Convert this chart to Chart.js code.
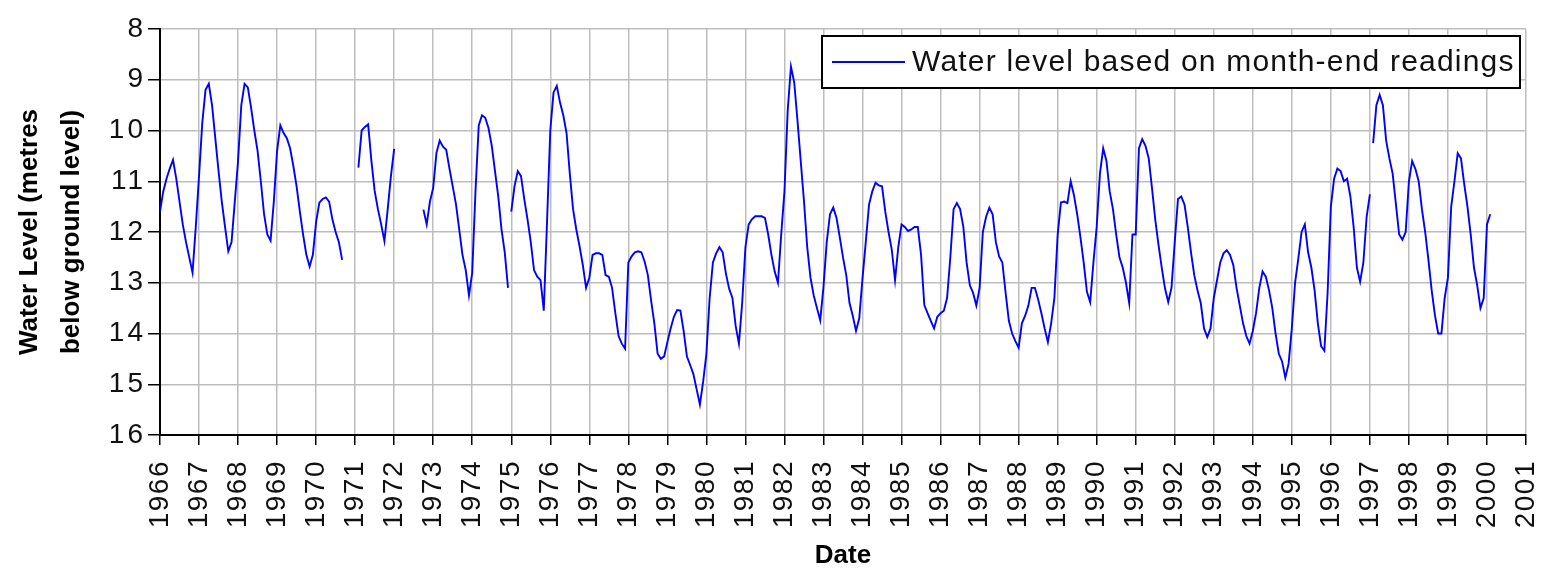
<!DOCTYPE html>
<html>
<head>
<meta charset="utf-8">
<script src="https://cdn.jsdelivr.net/npm/chart.js@4.4.1/dist/chart.umd.min.js"></script>
<style>
  html, body { margin: 0; padding: 0; background: #fff; }
  #wrap { width: 1546px; height: 569px; }
</style>
</head>
<body>
<div id="wrap"><canvas id="levelChart" width="1546" height="569"></canvas></div>
<script>
// month-end water levels (metres below ground), Jan..Dec of each year, null = no reading
const wl1966 = [11.6, 11.2, 10.95, 10.75, 10.58, 10.95, 11.4, 11.85, 12.2, 12.5, 12.8, 11.9];
const wl1967 = [10.9, 9.85, 9.2, 9.08, 9.5, 10.15, 10.8, 11.4, 11.9, 12.38, 12.2, 11.4];
const wl1968 = [10.6, 9.5, 9.08, 9.15, 9.55, 10.0, 10.4, 11.0, 11.65, 12.05, 12.17, 11.4];
const wl1969 = [10.4, 9.9, 10.05, 10.15, 10.35, 10.7, 11.1, 11.6, 12.05, 12.45, 12.68, 12.45];
const wl1970 = [11.8, 11.42, 11.35, 11.32, 11.4, 11.75, 12.0, 12.2, 12.55, null, null, null];
const wl1971 = [null, 10.73, 10.0, 9.93, 9.88, 10.6, 11.19, 11.55, 11.85, 12.18, 11.56, 10.9];
const wl1972 = [10.36, null, null, null, null, null, null, null, null, 11.56, 11.85, 11.4];
const wl1973 = [11.13, 10.44, 10.2, 10.32, 10.38, 10.75, 11.1, 11.45, 11.95, 12.45, 12.75, 13.25];
const wl1974 = [12.8, 11.2, 9.9, 9.7, 9.75, 9.95, 10.3, 10.8, 11.3, 11.95, 12.4, 13.1];
const wl1975 = [11.6, 11.1, 10.8, 10.9, 11.35, 11.75, 12.2, 12.75, 12.88, 12.95, 13.55, 11.8];
const wl1976 = [10.0, 9.25, 9.12, 9.45, 9.7, 10.05, 10.85, 11.55, 11.95, 12.28, 12.65, 13.1];
const wl1977 = [12.9, 12.45, 12.42, 12.42, 12.45, 12.85, 12.88, 13.1, 13.6, 14.05, 14.2, 14.3];
const wl1978 = [12.6, 12.48, 12.4, 12.38, 12.4, 12.58, 12.85, 13.35, 13.8, 14.4, 14.5, 14.45];
const wl1979 = [14.17, 13.9, 13.67, 13.54, 13.55, 13.95, 14.45, 14.62, 14.8, 15.1, 15.4, 14.95];
const wl1980 = [14.4, 13.3, 12.6, 12.42, 12.3, 12.4, 12.82, 13.12, 13.3, 13.85, 14.2, 13.4];
const wl1981 = [12.3, 11.85, 11.75, 11.69, 11.69, 11.69, 11.72, 12.05, 12.45, 12.78, 13.0, 12.05];
const wl1982 = [11.2, 9.6, 8.74, 9.05, 9.8, 10.6, 11.39, 12.3, 12.9, 13.25, 13.5, 13.74];
const wl1983 = [13.08, 12.2, 11.65, 11.52, 11.72, 12.1, 12.5, 12.85, 13.4, 13.65, 13.95, 13.7];
const wl1984 = [12.91, 12.2, 11.46, 11.2, 11.03, 11.08, 11.1, 11.6, 12.0, 12.35, 12.95, 12.3];
const wl1985 = [11.85, 11.9, 11.98, 11.95, 11.9, 11.9, 12.45, 13.44, 13.6, 13.75, 13.9, 13.67];
const wl1986 = [13.6, 13.55, 13.3, 12.5, 11.55, 11.43, 11.55, 11.9, 12.6, 13.05, 13.2, 13.45];
const wl1987 = [13.1, 12.0, 11.7, 11.52, 11.65, 12.2, 12.48, 12.6, 13.2, 13.75, 14.0, 14.15];
const wl1988 = [14.28, 13.8, 13.65, 13.45, 13.1, 13.1, 13.33, 13.6, 13.9, 14.17, 13.8, 13.3];
const wl1989 = [12.05, 11.42, 11.4, 11.43, 11.0, 11.27, 11.65, 12.1, 12.6, 13.18, 13.38, 12.6];
const wl1990 = [11.9, 10.85, 10.35, 10.6, 11.2, 11.55, 12.05, 12.5, 12.7, 13.0, 13.4, 12.05];
const wl1991 = [12.05, 10.35, 10.17, 10.3, 10.55, 11.13, 11.75, 12.25, 12.7, 13.11, 13.38, 13.1];
const wl1992 = [12.2, 11.35, 11.3, 11.46, 11.9, 12.4, 12.85, 13.15, 13.4, 13.9, 14.07, 13.9];
const wl1993 = [13.3, 12.95, 12.6, 12.42, 12.36, 12.45, 12.65, 13.1, 13.45, 13.8, 14.05, 14.2];
const wl1994 = [13.95, 13.6, 13.1, 12.78, 12.88, 13.15, 13.5, 14.0, 14.4, 14.55, 14.87, 14.6];
const wl1995 = [13.9, 13.0, 12.52, 12.0, 11.85, 12.4, 12.7, 13.15, 13.8, 14.25, 14.34, 13.2];
const wl1996 = [11.5, 10.95, 10.75, 10.8, 11.0, 10.95, 11.3, 11.9, 12.7, 12.98, 12.6, 11.7];
const wl1997 = [11.26, 10.25, 9.5, 9.3, 9.5, 10.2, 10.55, 10.85, 11.45, 12.05, 12.15, 12.0];
const wl1998 = [11.0, 10.6, 10.76, 11.0, 11.55, 12.0, 12.55, 13.15, 13.64, 14.0, 14.0, 13.3];
const wl1999 = [12.9, 11.5, 11.0, 10.45, 10.55, 11.05, 11.5, 12.05, 12.7, 13.05, 13.5, 13.3];
const wl2000 = [11.85, 11.65, null, null, null, null, null, null, null, null, null, null];

const yearRows = [
    [1966, wl1966], [1967, wl1967], [1968, wl1968], [1969, wl1969], [1970, wl1970],
    [1971, wl1971], [1972, wl1972], [1973, wl1973], [1974, wl1974], [1975, wl1975],
    [1976, wl1976], [1977, wl1977], [1978, wl1978], [1979, wl1979], [1980, wl1980],
    [1981, wl1981], [1982, wl1982], [1983, wl1983], [1984, wl1984], [1985, wl1985],
    [1986, wl1986], [1987, wl1987], [1988, wl1988], [1989, wl1989], [1990, wl1990],
    [1991, wl1991], [1992, wl1992], [1993, wl1993], [1994, wl1994], [1995, wl1995],
    [1996, wl1996], [1997, wl1997], [1998, wl1998], [1999, wl1999], [2000, wl2000]
];

// months where the record restarts without joining the previous reading
const runStarts = ['1975-01', '1997-02'];

const yearTicks = ['1966', '1967', '1968', '1969', '1970', '1971', '1972', '1973', '1974',
    '1975', '1976', '1977', '1978', '1979', '1980', '1981', '1982', '1983', '1984', '1985',
    '1986', '1987', '1988', '1989', '1990', '1991', '1992', '1993', '1994', '1995', '1996',
    '1997', '1998', '1999', '2000', '2001'];
const depthTicks = [8, 9, 10, 11, 12, 13, 14, 15, 16];

const seriesLabel = 'Water level based on month-end readings';
const FONT = "'Liberation Sans', Arial, sans-serif";
const BLUE = '#0000ff';
const GRID = '#bdbdbd';

// monthly points on a decimal-year axis
const points = [];
yearRows.forEach(([year, vals]) => {
    vals.forEach((v, m) => {
        points.push({ x: year + m / 12, y: v, key: year + '-' + String(m + 1).padStart(2, '0') });
    });
});

// wider letter spacing on tick labels (the original uses a stretched font)
function spaceLabels(scale, spacing) {
    if (!scale || scale.$spaced) return;
    const draw = scale.drawLabels.bind(scale);
    scale.drawLabels = function (area) {
        this.ctx.save();
        this.ctx.letterSpacing = spacing;
        draw(area);
        this.ctx.restore();
    };
    scale.$spaced = true;
}

const tickSpacing = {
    id: 'tickSpacing',
    afterUpdate(chart) {
        spaceLabels(chart.scales.x, '1.5px');
        spaceLabels(chart.scales.y, '3px');
    }
};

// legend box drawn inside the plot, top right
const boxLegend = {
    id: 'boxLegend',
    afterDraw(chart) {
        const { ctx, chartArea } = chart;
        const ds = chart.data.datasets[0];
        const w = 698, h = 52;
        const x = chartArea.right - w - 6;
        const y = chartArea.top + 7;
        ctx.save();
        ctx.fillStyle = '#fff';
        ctx.fillRect(x, y, w, h);
        ctx.strokeStyle = '#000';
        ctx.lineWidth = 2;
        ctx.strokeRect(x, y, w, h);
        ctx.strokeStyle = ds.borderColor;
        ctx.lineWidth = 2;
        ctx.beginPath();
        ctx.moveTo(x + 10, y + h / 2);
        ctx.lineTo(x + 83, y + h / 2);
        ctx.stroke();
        ctx.fillStyle = '#111';
        ctx.font = '30px ' + FONT;
        ctx.letterSpacing = '1.2px';
        ctx.textBaseline = 'middle';
        ctx.textAlign = 'left';
        ctx.fillText(ds.label, x + 90, y + h / 2 + 1);
        ctx.restore();
    }
};

new Chart(document.getElementById('levelChart'), {
    type: 'line',
    data: {
        datasets: [{
            label: seriesLabel,
            data: points,
            borderColor: BLUE,
            backgroundColor: BLUE,
            borderWidth: 1.9,
            pointRadius: 0,
            tension: 0,
            spanGaps: false,
            segment: {
                borderColor: ctx => runStarts.includes(points[ctx.p1DataIndex].key) ? 'rgba(0,0,0,0)' : BLUE
            }
        }]
    },
    options: {
        responsive: false,
        animation: false,
        devicePixelRatio: 1,
        layout: { padding: { top: 29, right: 20, left: 0, bottom: 0 } },
        plugins: {
            legend: { display: false },
            tooltip: { enabled: false }
        },
        scales: {
            x: {
                type: 'linear',
                min: 1966,
                max: 2001,
                afterBuildTicks: s => { s.ticks = yearTicks.map(t => ({ value: Number(t) })); },
                afterFit: s => { s.height = 134; s.paddingLeft = 0; s.paddingRight = 0; },
                ticks: {
                    minRotation: 90,
                    maxRotation: 90,
                    autoSkip: false,
                    padding: 15,
                    color: '#111',
                    font: { family: FONT, size: 28 },
                    callback: v => yearTicks.find(t => Number(t) === v)
                },
                grid: { color: GRID, lineWidth: 1.5, tickColor: '#000', tickLength: 10 },
                border: { color: '#000', width: 2 },
                title: {
                    display: true,
                    text: 'Date',
                    color: '#000',
                    padding: 0,
                    font: { family: FONT, size: 26, weight: 'bold', lineHeight: 1 }
                }
            },
            y: {
                reverse: true,
                min: 8,
                max: 16,
                afterBuildTicks: s => { s.ticks = depthTicks.map(v => ({ value: v })); },
                afterFit: s => { s.width = 160; },
                ticks: {
                    padding: 2,
                    color: '#111',
                    font: { family: FONT, size: 28 },
                    callback: v => String(v)
                },
                grid: { color: GRID, lineWidth: 1.5, tickColor: '#000', tickLength: 12 },
                border: { color: '#000', width: 2 },
                title: {
                    display: true,
                    text: ['Water Level (metres', 'below ground level)'],
                    color: '#000',
                    padding: { top: 9, bottom: 0 },
                    font: { family: FONT, size: 26, weight: 'bold', lineHeight: 1.62 }
                }
            }
        }
    },
    plugins: [tickSpacing, boxLegend]
});
</script>
</body>
</html>
